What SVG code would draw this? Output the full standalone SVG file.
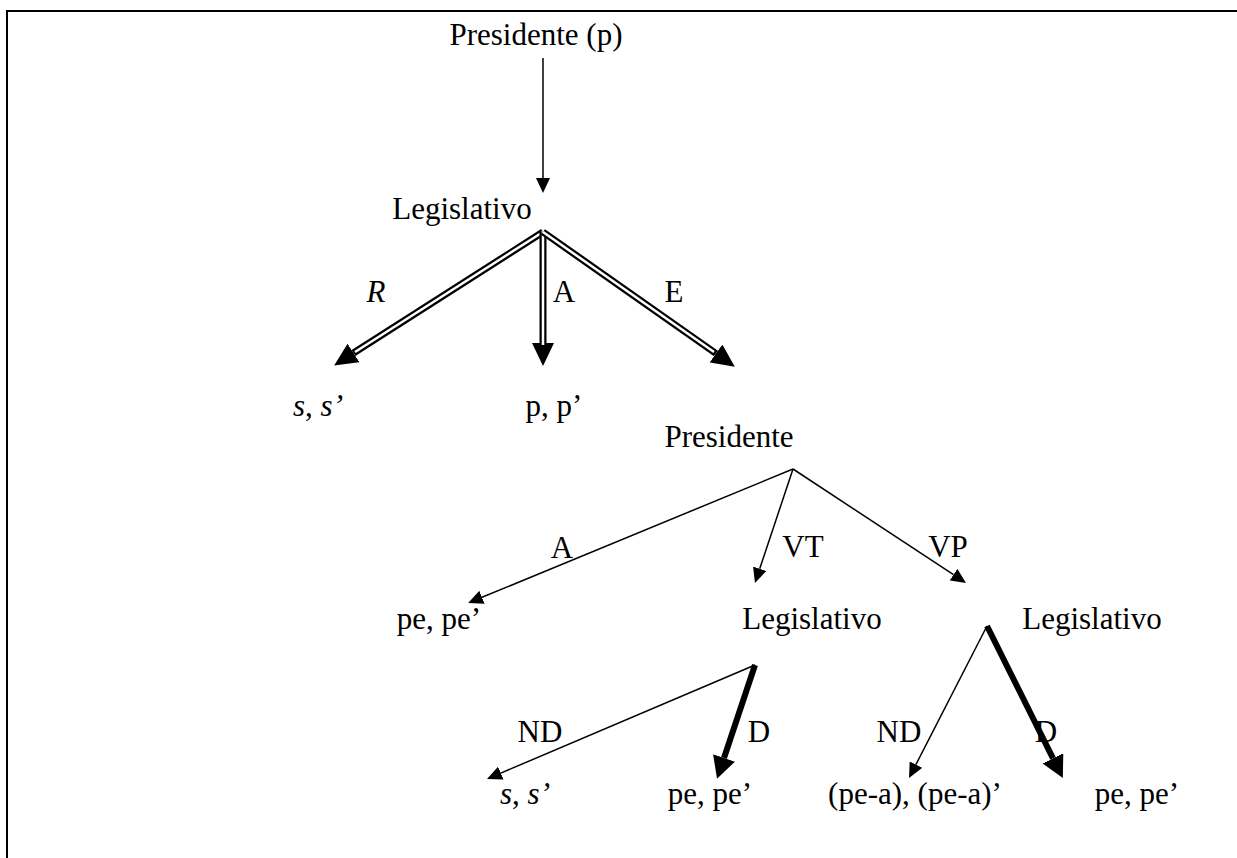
<svg xmlns="http://www.w3.org/2000/svg" width="1237" height="858" viewBox="0 0 1237 858" font-family="Liberation Serif, Times New Roman, serif">
<style>
text{font-family:'Liberation Serif','Times New Roman',serif;font-size:31px;fill:#000;text-anchor:middle}
.it{font-style:italic}
.thin{stroke:#000;stroke-width:1.5;fill:none}
.dbl{stroke:#000;stroke-width:7;fill:none}
.dblw{stroke:#fff;stroke-width:2.5;fill:none}
.thick{stroke:#000;stroke-width:6;fill:none}
.frame{stroke:#000;stroke-width:2;fill:none}
</style>
<defs>
<marker id="hs" markerUnits="userSpaceOnUse" markerWidth="16" markerHeight="14" refX="0" refY="7" orient="auto"><path d="M0,0 L15,7 L0,14 Z" fill="#000"/></marker>
<marker id="hb" markerUnits="userSpaceOnUse" markerWidth="24" markerHeight="22" refX="0" refY="11" orient="auto"><path d="M0,0 L23,11 L0,22 Z" fill="#000"/></marker>
<marker id="hk" markerUnits="userSpaceOnUse" markerWidth="23" markerHeight="23" refX="0" refY="11.5" orient="auto"><path d="M0,0 L22,11.5 L0,23 Z" fill="#000"/></marker>
</defs>
<g id="frame"><path class="frame" d="M7,858 L7,11 L1237,11"/></g>
<g id="connectors">
<path class="thin" d="M543,58 L543,178" marker-end="url(#hs)"/>
<path class="dbl" d="M543,232 L353.5,353" marker-end="url(#hb)"/>
<path class="dblw" d="M543,232 L355,352"/>
<path class="dbl" d="M543,232 L543,343" marker-end="url(#hb)"/>
<path class="dblw" d="M543,232 L543,345"/>
<path class="dbl" d="M543,232 L716,353.5" marker-end="url(#hb)"/>
<path class="dblw" d="M543,232 L714,352"/>
<path class="thin" d="M793,469 L482,597.3" marker-end="url(#hs)"/>
<path class="thin" d="M793,469 L759.7,568.8" marker-end="url(#hs)"/>
<path class="thin" d="M793,469 L953.5,574.7" marker-end="url(#hs)"/>
<path class="thin" d="M755,665 L500.8,773.1" marker-end="url(#hs)"/>
<path class="thick" d="M755,665 L724,758" marker-end="url(#hk)"/>
<path class="thin" d="M987,626 L915.9,764.6" marker-end="url(#hs)"/>
<path class="thick" d="M987,626 L1053,758.3" marker-end="url(#hk)"/>
</g>
<g id="labels">
<text class="it" x="376" y="302">R</text>
<text x="564" y="302">A</text>
<text x="674" y="302">E</text>
<text x="562" y="558">A</text>
<text x="803" y="557">VT</text>
<text x="948" y="557">VP</text>
<text x="540" y="742">ND</text>
<text x="759" y="742">D</text>
<text x="899" y="742">ND</text>
<text x="1046" y="742">D</text>
</g>
<g id="n-presidente-p"><text x="536" y="45">Presidente (p)</text></g>
<g id="n-legislativo-1"><text x="462" y="219">Legislativo</text></g>
<g id="n-ss-1"><text x="318" y="416"><tspan class="it">s</tspan>, <tspan class="it">s’</tspan></text></g>
<g id="n-pp"><text x="554" y="416">p, p’</text></g>
<g id="n-presidente-2"><text x="729" y="447">Presidente</text></g>
<g id="n-pepe-1"><text x="439" y="629">pe, pe’</text></g>
<g id="n-legislativo-2"><text x="812" y="629">Legislativo</text></g>
<g id="n-legislativo-3"><text x="1092" y="629">Legislativo</text></g>
<g id="n-ss-2"><text x="525" y="804"><tspan class="it">s</tspan>, <tspan class="it">s’</tspan></text></g>
<g id="n-pepe-2"><text x="710" y="804">pe, pe’</text></g>
<g id="n-pea"><text x="915" y="804">(pe-a), (pe-a)’</text></g>
<g id="n-pepe-3"><text x="1137" y="804">pe, pe’</text></g>
</svg>
